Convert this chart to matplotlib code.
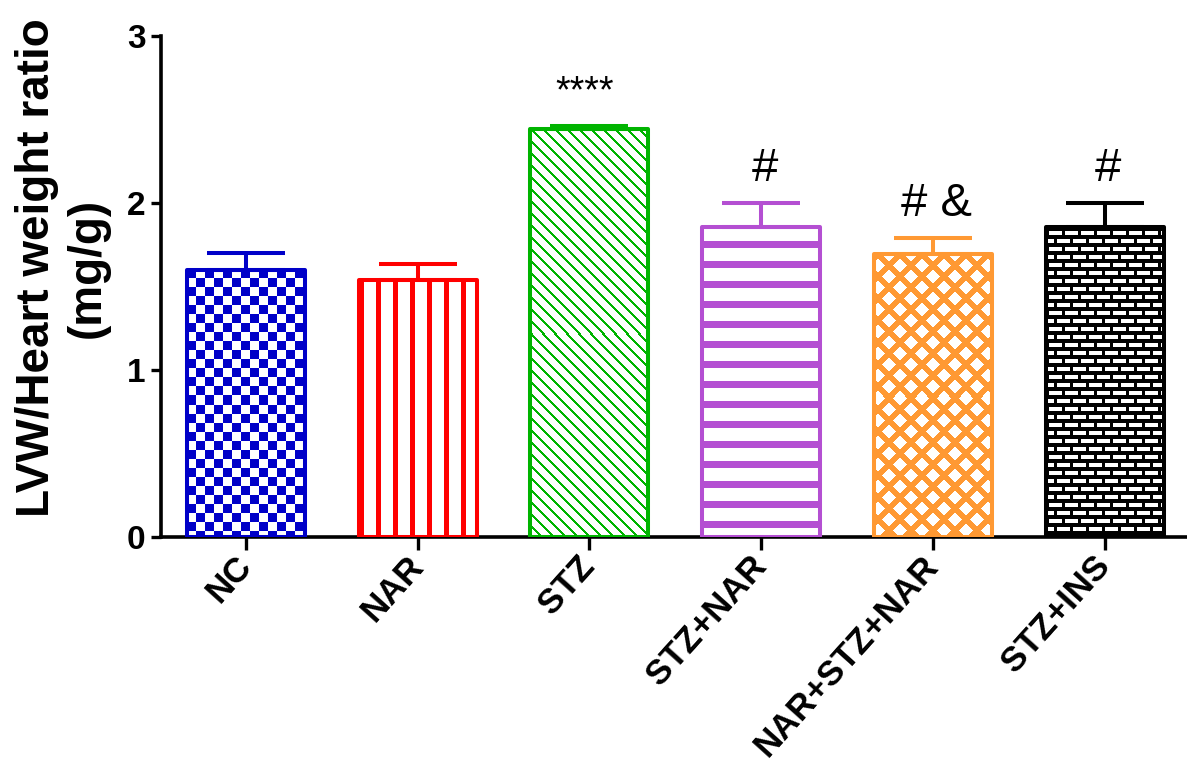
import numpy as np
import matplotlib
matplotlib.use("Agg")
import matplotlib.pyplot as plt
from matplotlib.colors import to_rgba

# ---- data ----
groups = ["NC", "NAR", "STZ", "STZ+NAR", "NAR+STZ+NAR", "STZ+INS"]
means = [1.60, 1.54, 2.44, 1.855, 1.69, 1.855]
sems = [0.10, 0.09, 0.02, 0.145, 0.10, 0.145]
marks = ["", "", "****", "#", "# &", "#"]
colors = ["#0000C8", "#FF0000", "#00B400", "#B44FD2", "#FF9933", "#000000"]
patterns = ["checker", "vstripe", "diag", "hstripe", "cross", "brick"]

plt.rcParams["font.family"] = ["Liberation Sans", "DejaVu Sans"]

W_PX, H_PX, DPI = 1187, 769, 100
fig = plt.figure(figsize=(W_PX / DPI, H_PX / DPI), dpi=DPI)
left, right = 161 / W_PX, 1.0
bottom, top = (H_PX - 536.7) / H_PX, (H_PX - 35.7) / H_PX
ax = fig.add_axes([left, bottom, right - left, top - bottom])

xmin, xmax = -0.495, 5.48
ymin, ymax = 0, 3
ax.set_xlim(xmin, xmax)
ax.set_ylim(ymin, ymax)

bar_w = 0.687
px_x = (right - left) * W_PX / (xmax - xmin)
px_y = (top - bottom) * H_PX / (ymax - ymin)


def pattern_mask(kind, h, w):
    i, j = np.mgrid[0:h, 0:w]
    if kind == "checker":
        return ((i // 9 + j // 9) % 2) == 0
    if kind == "vstripe":
        return (j % 17) < 5
    if kind == "diag":
        return ((j - i) % 12) < 3
    if kind == "hstripe":
        return ((i - 14) % 20) < 7
    if kind == "cross":
        return (((i + j) % 22) < 8) | (((j - i) % 22) < 8)
    if kind == "brick":
        row = i // 8
        horiz = (i % 8) < 4
        vert = ((j + (row % 2) * 8) % 16) < 3
        return horiz | vert
    return np.zeros((h, w), bool)


x = np.arange(len(groups))
for xi, m, s, c, p in zip(x, means, sems, colors, patterns):
    # white fill underneath
    base = ax.bar(xi, m, bar_w, color="white", edgecolor="none", zorder=1)[0]
    h = max(int(round(m * px_y)), 1)
    w = max(int(round(bar_w * px_x)), 1)
    mask = pattern_mask(p, h, w)
    img = np.ones((h, w, 4))
    img[mask] = to_rgba(c)
    im = ax.imshow(img, extent=(xi - bar_w / 2, xi + bar_w / 2, 0, m),
                   origin="upper", interpolation="nearest", aspect="auto",
                   zorder=2)
    im.set_clip_path(base)
    # outline on top
    ax.bar(xi, m, bar_w, color="none", edgecolor=c, linewidth=2.9,
           zorder=3, joinstyle="round")
    # one-sided error bar
    ax.errorbar(xi, m, yerr=[[0], [s]], fmt="none", ecolor=c,
                elinewidth=2.9, capsize=28, capthick=2.9, zorder=2.5)

# significance marks
for xi, m, s, t in zip(x, means, sems, marks):
    if not t:
        continue
    if "*" in t:
        ax.text(xi - 0.03, m + s + 0.2, t, ha="center", va="center",
                fontsize=27, color="black")
    else:
        ax.text(xi + 0.02, m + s + 0.2, t, ha="center", va="center",
                fontsize=34, color="black")

ax.autoscale(False)
ax.set_xlim(xmin, xmax)
ax.set_ylim(ymin, ymax)

for side in ("top", "right"):
    ax.spines[side].set_visible(False)
for side in ("left", "bottom"):
    ax.spines[side].set_linewidth(2.6)

ax.set_yticks([0, 1, 2, 3])
ax.set_yticklabels(["0", "1", "2", "3"], fontsize=24, fontweight="bold")
ax.tick_params(axis="y", length=7, width=2.4, pad=4)

ax.set_xticks(x)
ax.set_xticklabels(groups, fontsize=25, fontweight="bold", rotation=48,
                   ha="right", va="center", rotation_mode="anchor")
ax.tick_params(axis="x", length=9, width=2.4, pad=8)

ax.set_ylabel("LVW/Heart weight ratio\n(mg/g)", fontsize=33,
              fontweight="bold", linespacing=1.2)
ax.yaxis.set_label_coords(-0.05, 0.537)

fig.savefig("out.png", dpi=DPI, facecolor="white")
